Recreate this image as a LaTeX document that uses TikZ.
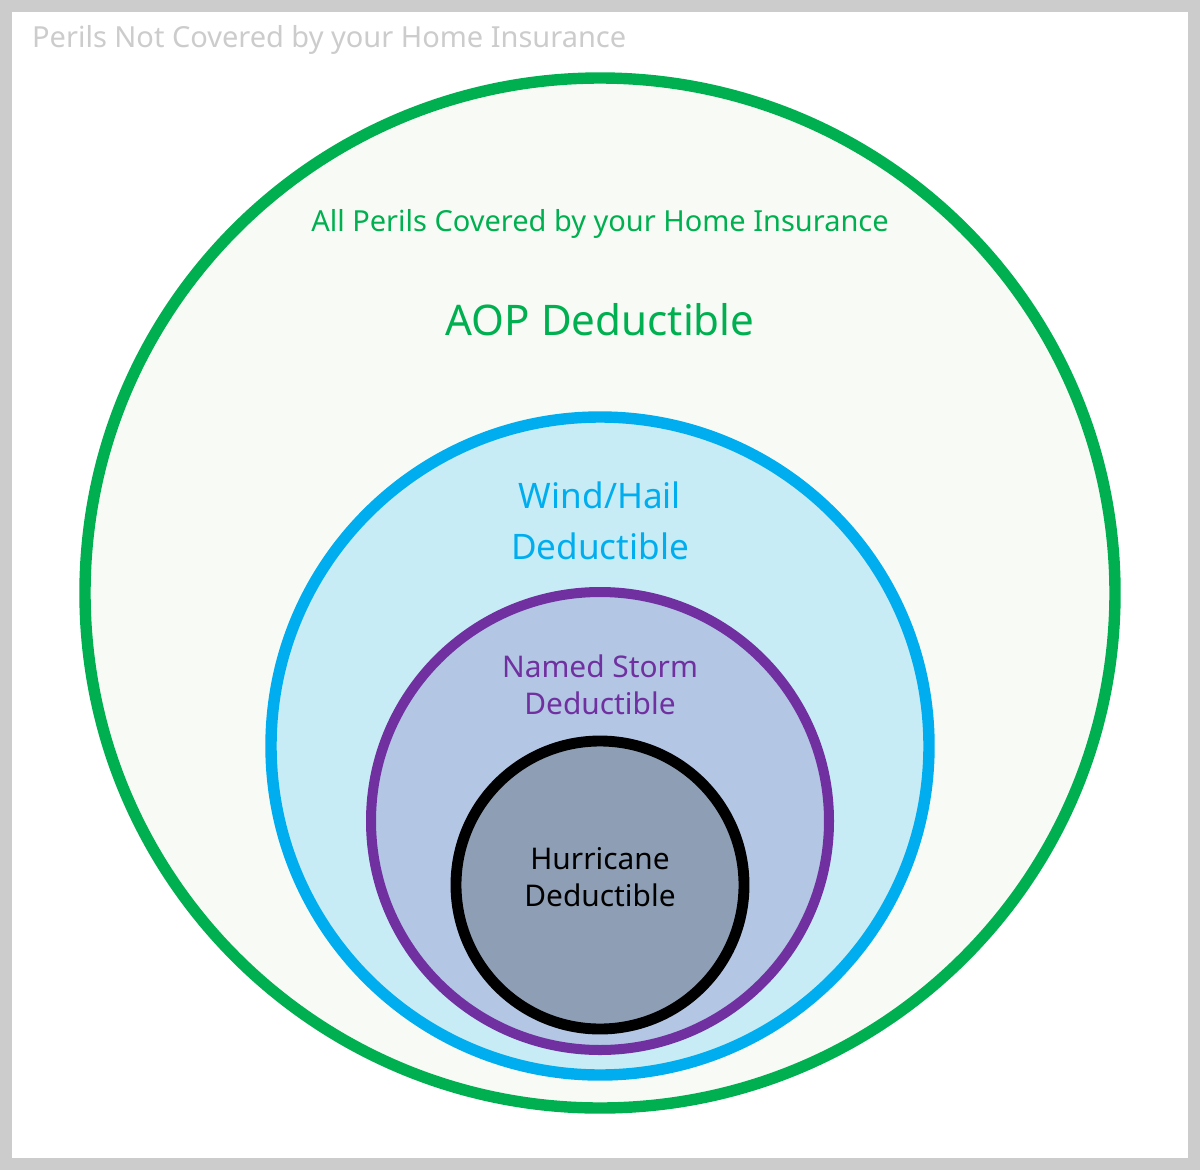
\documentclass[tikz,border=0pt]{standalone}
\usepackage{fontspec}
\setmainfont{Noto Sans}
\definecolor{aopgreen}{HTML}{00B050}
\definecolor{aopfill}{HTML}{F8FBF5}
\definecolor{windblue}{HTML}{00AEEF}
\definecolor{windfill}{HTML}{C8ECF5}
\definecolor{stormpurple}{HTML}{7030A0}
\definecolor{stormfill}{HTML}{B3C6E4}
\definecolor{hurrfill}{HTML}{8E9FB5}
\definecolor{framegray}{HTML}{CCCCCC}
\tikzset{
  ring/.style={line width=6.5pt},
  label/.style={align=center, font=\bfseries\fontsize{17}{21}\selectfont}
}
\begin{document}
\begin{tikzpicture}[x=0.02cm, y=-0.02cm]
\useasboundingbox (0,0) rectangle (1200,1170);
\draw[framegray, line width=6.8pt, fill=white] (6,6) rectangle (1194,1164);
\node[anchor=west, text=framegray, font=\fontsize{16.5}{20}\selectfont] (outside) at (26,40) {Perils Not Covered by your Home Insurance};

\draw[ring, aopgreen, fill=aopfill] (600,593) circle (515);
\draw[ring, windblue, fill=windfill] (600,746) circle (329);
\draw[ring, line width=5.7pt, stormpurple, fill=stormfill] (600,821) circle (229);
\draw[ring, line width=6.2pt, black, fill=hurrfill] (600,885) circle (144);

\node[text=aopgreen, font=\fontsize{16.5}{20}\selectfont] (covered) at (600,224) {All Perils Covered by your Home Insurance};
\node[label, text=aopgreen, font=\bfseries\fontsize{24}{28}\selectfont] (aop) at (600,320) {AOP Deductible};
\node[label, text=windblue, font=\bfseries\fontsize{20}{29}\selectfont] (wind) at (600,521) {Wind/Hail\\Deductible};
\node[label, text=stormpurple] (storm) at (600,685) {Named Storm\\Deductible};
\node[label, text=black] (hurricane) at (600,877) {Hurricane\\Deductible};
\end{tikzpicture}
\end{document}
